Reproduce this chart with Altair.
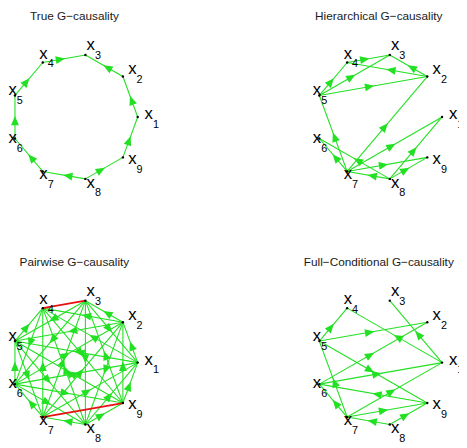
import math
import altair as alt
import pandas as pd

# ---------------- data ----------------
titles = ["True G\u2212causality", "Hierarchical G\u2212causality",
          "Pairwise G\u2212causality", "Full\u2212Conditional G\u2212causality"]
node_ids = [1, 2, 3, 4, 5, 6, 7, 8, 9]

true_edges = [(1, 2), (2, 3), (4, 3), (5, 4), (6, 5), (7, 6), (8, 7), (8, 9), (9, 1)]
hier_edges = [(4, 3), (2, 3), (2, 4), (5, 4), (5, 3), (5, 2), (7, 5), (7, 2), (7, 1),
              (7, 6), (8, 6), (7, 9), (8, 7), (8, 9), (8, 1)]
pair_edges = [(1, 2), (3, 1), (1, 4), (1, 5), (6, 1), (7, 1), (8, 1), (9, 1),
              (2, 3), (2, 4), (2, 5), (6, 2), (7, 2), (2, 8), (9, 2),
              (3, 5), (3, 6), (7, 3), (3, 8), (9, 3),
              (5, 4), (4, 6), (7, 4), (8, 4), (4, 9),
              (6, 5), (5, 7), (5, 8), (9, 5),
              (7, 6), (6, 8), (6, 9),
              (8, 7), (8, 9)]
pair_bidir = [(3, 4), (7, 9)]
full_edges = [(5, 4), (1, 4), (1, 3), (5, 2), (6, 2), (5, 9), (7, 5), (6, 1), (9, 6),
              (7, 1), (7, 6), (7, 9), (8, 7), (8, 9)]

panel_edges = [true_edges, hier_edges, pair_edges, full_edges]
panel_bidir = [[], [], pair_bidir, []]

# ---------------- layout ----------------
W, H = 459, 440
PXX, PXY = 64.4, 64.0          # pixels per unit of the node circle
x_lo = -67.6 / PXX
y_hi = 107.0 / PXY
xs = alt.Scale(domain=[x_lo, x_lo + W / PXX], nice=False, zero=False)
ys = alt.Scale(domain=[y_hi - H / PXY, y_hi], nice=False, zero=False)
centres = [(0.0, 0.0), (4.81, 0.0), (0.0, -3.906), (4.81, -3.906)]
GREEN = "#22e022"
RED = "#e81010"

nodes, edges, arrows, heads = [], [], [], []
for p, (cx, cy) in enumerate(centres):
    pos = {}
    for k in node_ids:
        th = math.radians((k - 1) * 40)
        X, Y = cx + math.cos(th), cy + math.sin(th)
        pos[k] = (X, Y)
        nodes.append({"X": X, "Y": Y,
                      "lx": X + 7 / PXX * math.cos(th),
                      "ly": Y + 7 / PXY * math.sin(th),
                      "xs": "x", "num": str(k)})
    for (a, b) in panel_edges[p]:
        (x1, y1), (x2, y2) = pos[a], pos[b]
        edges.append({"x": x1, "y": y1, "x2": x2, "y2": y2, "col": GREEN, "sw": 1.1, "o": 0})
        ang = math.degrees(math.atan2((x2 - x1) * PXX, (y2 - y1) * PXY)) % 360
        arrows.append({"mx": (x1 + x2) / 2, "my": (y1 + y2) / 2, "ang": ang, "col": GREEN})
    for (a, b) in panel_bidir[p]:
        (x1, y1), (x2, y2) = pos[a], pos[b]
        edges.append({"x": x1, "y": y1, "x2": x2, "y2": y2, "col": RED, "sw": 1.8, "o": 1})
    heads.append({"tx": cx, "ty": cy + 1.6, "title": titles[p]})

nodes_df = pd.DataFrame(nodes)
edges_df = pd.DataFrame(edges)
arrows_df = pd.DataFrame(arrows)
heads_df = pd.DataFrame(heads)

FONT = "Liberation Sans"
ARROW = "M0,-0.2L0.8,1.7L-0.8,1.7Z"

green_lines = alt.Chart(edges_df).transform_filter("datum.o == 0").mark_rule().encode(
    x=alt.X("x:Q", scale=xs, axis=None),
    y=alt.Y("y:Q", scale=ys, axis=None),
    x2="x2:Q", y2="y2:Q",
    color=alt.Color("col:N", scale=None),
    strokeWidth=alt.StrokeWidth("sw:Q", scale=None),
)
red_lines = alt.Chart(edges_df).transform_filter("datum.o == 1").mark_rule().encode(
    x=alt.X("x:Q", scale=xs, axis=None),
    y=alt.Y("y:Q", scale=ys, axis=None),
    x2="x2:Q", y2="y2:Q",
    color=alt.Color("col:N", scale=None),
    strokeWidth=alt.StrokeWidth("sw:Q", scale=None),
)
tri = alt.Chart(arrows_df).mark_point(shape=ARROW, filled=True, size=100,
                                      strokeWidth=0, opacity=1).encode(
    x=alt.X("mx:Q", scale=xs, axis=None),
    y=alt.Y("my:Q", scale=ys, axis=None),
    angle=alt.Angle("ang:Q", scale=None),
    color=alt.Color("col:N", scale=None),
)
dots = alt.Chart(nodes_df).mark_circle(size=6, color="black", opacity=1).encode(
    x=alt.X("X:Q", scale=xs, axis=None),
    y=alt.Y("Y:Q", scale=ys, axis=None),
)
lab = alt.Chart(nodes_df).mark_text(align="left", baseline="alphabetic", fontSize=17,
                                    dy=2, font=FONT, color="black").encode(
    x=alt.X("lx:Q", scale=xs, axis=None),
    y=alt.Y("ly:Q", scale=ys, axis=None),
    text="xs:N",
)
sub = alt.Chart(nodes_df).mark_text(align="left", baseline="alphabetic", fontSize=11,
                                    dx=8.5, dy=11, font=FONT, color="black").encode(
    x=alt.X("lx:Q", scale=xs, axis=None),
    y=alt.Y("ly:Q", scale=ys, axis=None),
    text="num:N",
)
ttl = alt.Chart(heads_df).mark_text(align="center", baseline="middle", fontSize=12,
                                    font=FONT, color="#1a1a1a").encode(
    x=alt.X("tx:Q", scale=xs, axis=None),
    y=alt.Y("ty:Q", scale=ys, axis=None),
    text="title:N",
)

chart = alt.layer(green_lines, tri, red_lines, dots, lab, sub, ttl).properties(
    width=W, height=H, padding=0,
    autosize=alt.AutoSizeParams(type="none"),
    background="white",
).configure_view(stroke=None)

chart.save("out.html", embed_options={"renderer": "svg", "actions": False})
